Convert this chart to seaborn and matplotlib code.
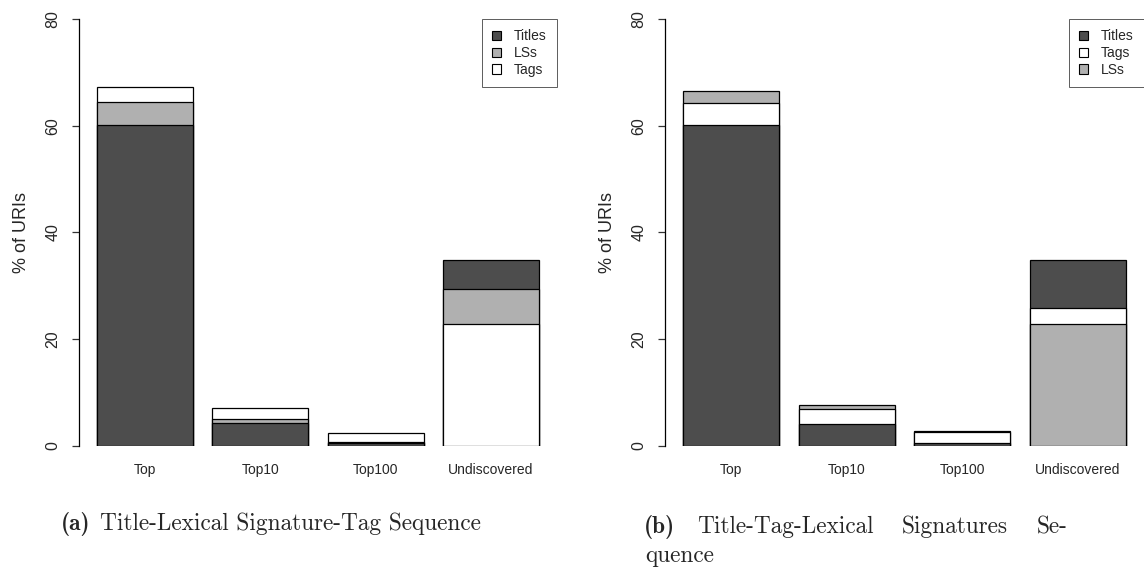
import matplotlib
matplotlib.use("Agg")
import matplotlib.pyplot as plt
import pandas as pd
import seaborn as sns
from matplotlib.patches import Patch

categories = ["Top", "Top10", "Top100", "Undiscovered"]

# (a) Title -> Lexical Signature -> Tag
a_titles = [60.2, 4.3, 0.5, 5.5]
a_lss = [4.2, 0.8, 0.3, 6.5]
a_tags = [2.9, 2.1, 1.7, 22.9]

# (b) Title -> Tag -> Lexical Signature
b_titles = [60.2, 4.2, 0.5, 9.1]
b_tags = [4.1, 2.8, 2.2, 2.9]
b_lss = [2.2, 0.6, 0.2, 22.9]

# the Undiscovered bar is stacked the other way round
reversed_stack = [False, False, False, True]

DARK = "#4d4d4d"
LIGHT = "#b0b0b0"
WHITE = "#ffffff"


def stacked_bars(ax, series, colors):
    # series: list of (name, values) from bottom to top for normal bars
    n_levels = len(series)
    rows = []
    for i, cat in enumerate(categories):
        order = list(range(n_levels))
        if reversed_stack[i]:
            order = order[::-1]
        cum = 0
        for level, k in enumerate(order):
            cum += series[k][1][i]
            rows.append({"cat": cat, "level": level, "top": cum, "color": colors[k]})
    df = pd.DataFrame(rows)

    # draw the tallest layer first, lower layers on top of it
    for level in range(n_levels - 1, -1, -1):
        d = df[df["level"] == level]
        sns.barplot(data=d, x="cat", y="top", hue="cat", order=categories,
                    palette=dict(zip(d["cat"], d["color"])), saturation=1,
                    width=0.833, edgecolor="black", linewidth=0.9,
                    errorbar=None, legend=False, ax=ax)

    ax.set_xlim(-0.573, 3.573)
    ax.set_ylim(0, 80)
    ax.set_yticks([0, 20, 40, 60, 80])
    ax.set_xlabel("")
    ax.set_ylabel("% of URIs", fontsize=13)
    ax.yaxis.set_label_coords(-0.103, 0.5)
    for s in ["top", "right", "bottom"]:
        ax.spines[s].set_visible(False)
    ax.spines["left"].set_color("black")
    ax.spines["left"].set_linewidth(0.9)
    ax.tick_params(axis="y", length=5.4, width=0.9, pad=8, labelsize=11.5,
                   labelrotation=90, left=True, color="#333333")
    ax.tick_params(axis="x", length=0, pad=12.5, labelsize=10)
    for lab in ax.get_yticklabels():
        lab.set_va("center")

    handles = [Patch(facecolor=c, edgecolor="black", linewidth=0.8) for c in colors]
    names = [s[0] for s in series]
    leg = ax.legend(handles, names, loc="upper right", frameon=True, fancybox=False,
                    edgecolor="#333333", borderaxespad=0, fontsize=10,
                    handlelength=0.65, handleheight=0.65, handletextpad=0.9,
                    labelspacing=0.2, borderpad=0.75)
    leg.get_frame().set_linewidth(0.7)


sns.set_style("white")
plt.rcParams["font.family"] = ["Liberation Sans", "DejaVu Sans"]

fig = plt.figure(figsize=(11.44, 5.69), dpi=100)
ax1 = fig.add_axes([0.0691, 0.2162, 0.4178, 0.7504])
ax2 = fig.add_axes([0.5813, 0.2162, 0.4187, 0.7504])

stacked_bars(ax1, [("Titles", a_titles), ("LSs", a_lss), ("Tags", a_tags)],
             [DARK, LIGHT, WHITE])
stacked_bars(ax2, [("Titles", b_titles), ("Tags", b_tags), ("LSs", b_lss)],
             [DARK, WHITE, LIGHT])

W, H = 1144, 569
cap = 16.8


def caption(x, y, s, bold=False):
    fig.text(x / W, 1 - y / H, s, fontsize=cap, va="baseline", ha="left",
             family="cmb10" if bold else "cmr10")


caption(61, 530, "(a)", bold=True)
caption(100, 530, "Title-Lexical Signature-Tag Sequence")
caption(644, 533, "(b)", bold=True)
caption(697, 533, "Title-Tag-Lexical")
caption(902, 533, "Signatures")
caption(1037, 533, "Se-")
caption(645, 562, "quence")

fig.savefig("out.png", dpi=100)
